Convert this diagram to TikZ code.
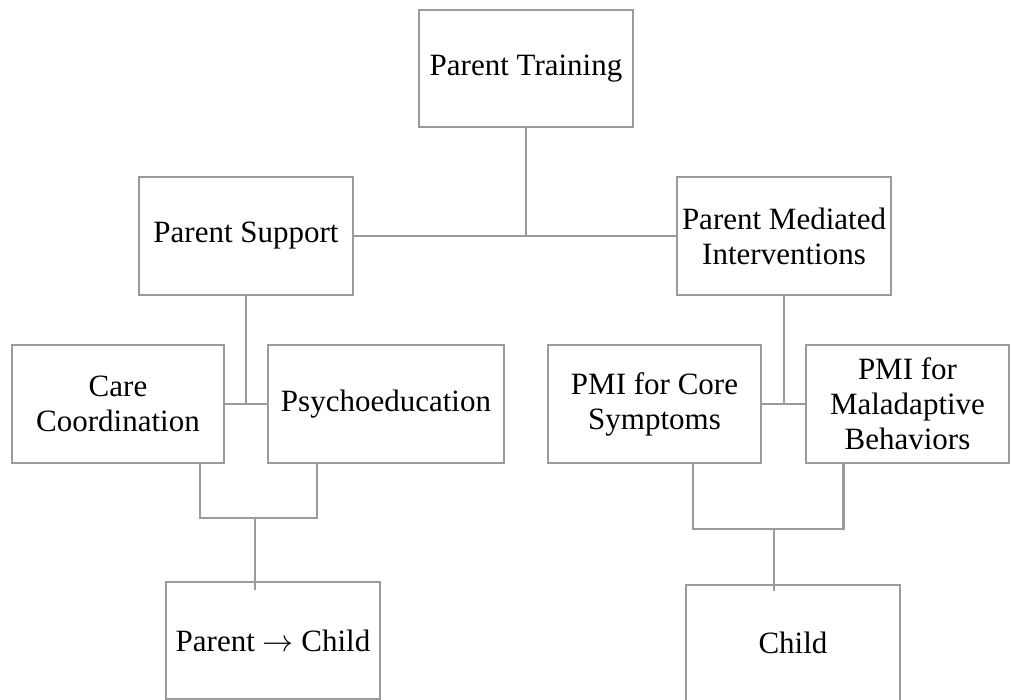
\RequirePackage{fix-cm}
\documentclass[tikz,border=0pt]{standalone}
\usepackage{fontspec}
\setmainfont{Liberation Serif}
\usepackage{tikz}

\definecolor{linegray}{HTML}{9B9B9B}

\begin{document}
\begin{tikzpicture}[x=1pt, y=-1pt,
  box/.style={draw=linegray, line width=2.8pt, rectangle, inner sep=0pt, align=center,
    font=\fontsize{31}{35}\selectfont},
  link/.style={draw=linegray, line width=2.8pt}]
\clip (0,0) rectangle (1011,700);

%--- Top levels ---
\node[box, minimum width=214pt, minimum height=117pt] (pt) at (526,68.5) {Parent Training};
\node[box, minimum width=214pt, minimum height=118pt] (ps) at (246,236) {Parent Support};
\node[box, minimum width=214pt, minimum height=118pt] (pmi) at (784,236) {Parent Mediated\\Interventions};

%--- Middle level ---
\node[box, minimum width=212pt, minimum height=118pt] (cc) at (118,404) {Care\\Coordination};
\node[box, minimum width=236pt, minimum height=118pt] (psy) at (386,404) {Psychoeducation};
\node[box, minimum width=213pt, minimum height=118pt] (core) at (654.5,404) {PMI for Core\\Symptoms};
\node[box, minimum width=203pt, minimum height=118pt] (mal) at (907.5,404) {PMI for\\Maladaptive\\Behaviors};

%--- Targets ---
\node[box, minimum width=214pt, minimum height=117pt] (pc) at (273,640.5) {Parent $\rightarrow$ Child};
\node[box, minimum width=214pt, minimum height=116pt] (child) at (793,643) {Child};

% Branches from the top
\draw[link] (ps.east) -- (pmi.west);
\draw[link] (pt.south) -- (pt.south |- ps.east);

% Parent support branch
\draw[link] (cc.east) -- (psy.west);
\draw[link] (ps.south) -- (ps.south |- cc.east);

% PMI branch
\draw[link] (core.east) -- (mal.west);
\draw[link] (pmi.south) -- (pmi.south |- core.east);

% Joins down to the targets
\coordinate (jl) at (255,518);
\coordinate (pcin) at (255,590);
\draw[link] ([xshift=82pt]cc.south) |- (jl) -| ([xshift=-69pt]psy.south);
\draw[link] (jl) -- (pcin);

\coordinate (jr) at (774,529);
\coordinate (chin) at (774,591);
\draw[link] ([xshift=38.5pt]core.south) |- (jr) -| ([xshift=-64pt]mal.south);
\draw[link] (jr) -- (chin);
\end{tikzpicture}
\end{document}
